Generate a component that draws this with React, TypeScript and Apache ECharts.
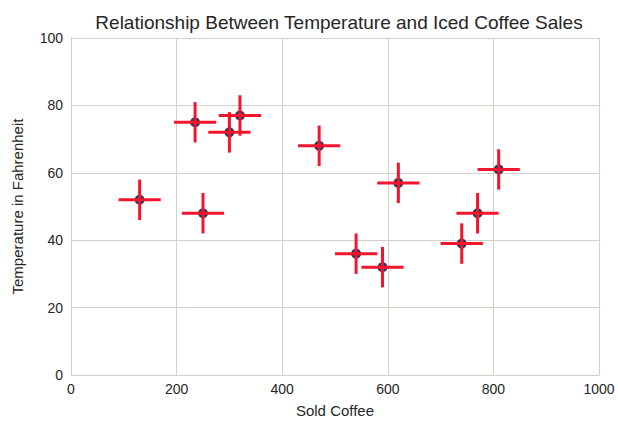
import React, { useEffect, useRef } from "react";
import * as echarts from "echarts";

// Cups of iced coffee sold vs. the day's temperature
const soldCoffee = [130, 235, 250, 300, 320, 470, 540, 590, 620, 740, 770, 810];
const temperature = [52, 75, 48, 72, 77, 68, 36, 32, 57, 39, 48, 61];
const soldErr = [40, 40, 40, 40, 40, 40, 40, 40, 40, 40, 40, 40];
const tempErr = [6, 6, 6, 6, 6, 6, 6, 6, 6, 6, 6, 6];

const xTicks = [0, 200, 400, 600, 800, 1000];
const yTicks = [0, 20, 40, 60, 80, 100];

const FONT = "Liberation Sans, Arial, sans-serif";
const GRID_COLOR = "#d4d0c8";
const TEXT_COLOR = "#262626";

export default function App() {
  const ref = useRef<HTMLDivElement>(null);

  useEffect(() => {
    if (!ref.current) return;
    const chart = echarts.init(ref.current, null, { renderer: "svg" });

    const points = soldCoffee.map((x, i) => [x, temperature[i]]);
    const errData = soldCoffee.map((x, i) => [x, temperature[i], soldErr[i], tempErr[i]]);

    chart.setOption({
      animation: false,
      backgroundColor: "#ffffff",
      title: {
        text: "Relationship Between Temperature and Iced Coffee Sales",
        left: 334,
        top: 8,
        textAlign: "center",
        textStyle: { fontFamily: FONT, fontSize: 19, fontWeight: "normal", color: TEXT_COLOR },
      },
      grid: { left: 71, top: 38, width: 528, height: 342, containLabel: false },
      xAxis: {
        type: "value",
        min: xTicks[0],
        max: xTicks[xTicks.length - 1],
        interval: 200,
        name: "Sold Coffee",
        nameLocation: "middle",
        nameGap: 28,
        nameTextStyle: { fontFamily: FONT, fontSize: 15, color: TEXT_COLOR },
        axisLine: { show: true, lineStyle: { color: GRID_COLOR, width: 1 } },
        axisTick: { show: false },
        axisLabel: {
          fontFamily: FONT,
          fontSize: 14,
          color: TEXT_COLOR,
          margin: 7,
          formatter: (v: number) => String(v),
        },
        splitLine: { show: true, lineStyle: { color: GRID_COLOR, width: 1 } },
      },
      yAxis: {
        type: "value",
        min: yTicks[0],
        max: yTicks[yTicks.length - 1],
        interval: 20,
        name: "Temperature in Fahrenheit",
        nameLocation: "middle",
        nameGap: 46,
        nameTextStyle: { fontFamily: FONT, fontSize: 15, color: TEXT_COLOR },
        axisLine: { show: true, lineStyle: { color: GRID_COLOR, width: 1 } },
        axisTick: { show: false },
        axisLabel: {
          fontFamily: FONT,
          fontSize: 14,
          color: TEXT_COLOR,
          margin: 8,
          formatter: (v: number) => String(v),
        },
        splitLine: { show: true, lineStyle: { color: GRID_COLOR, width: 1 } },
      },
      series: [
        {
          type: "scatter",
          data: points,
          symbol: "circle",
          symbolSize: 10,
          itemStyle: { color: "#223d5e", opacity: 1 },
          z: 2,
        },
        {
          type: "custom",
          data: errData,
          encode: { x: 0, y: 1 },
          z: 3,
          renderItem: (params: any, api: any) => {
            const x = api.value(0);
            const y = api.value(1);
            const dx = api.value(2);
            const dy = api.value(3);
            const left = api.coord([x - dx, y]);
            const right = api.coord([x + dx, y]);
            const bottom = api.coord([x, y - dy]);
            const top = api.coord([x, y + dy]);
            const style = { stroke: "#f5142e", lineWidth: 3, fill: null };
            return {
              type: "group",
              children: [
                { type: "line", shape: { x1: left[0], y1: left[1], x2: right[0], y2: right[1] }, style },
                { type: "line", shape: { x1: bottom[0], y1: bottom[1], x2: top[0], y2: top[1] }, style },
              ],
            };
          },
        },
      ],
    });

    return () => chart.dispose();
  }, []);

  return (
    <div
      ref={ref}
      style={{ position: "fixed", left: 0, top: 0, width: 618, height: 423, background: "#fff" }}
    />
  );
}
